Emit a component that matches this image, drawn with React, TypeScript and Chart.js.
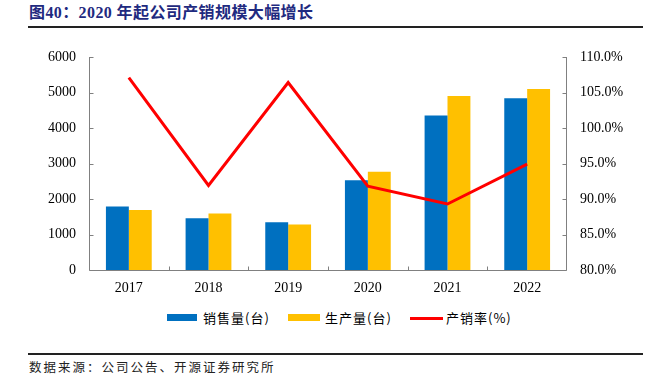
import React, { useEffect, useRef } from "react";
import { Chart, registerables } from "chart.js";

Chart.register(...registerables);

const years = ["2017", "2018", "2019", "2020", "2021", "2022"];
const salesUnits = [1790, 1455, 1345, 2525, 4355, 4835];
const productionUnits = [1690, 1595, 1285, 2770, 4900, 5100];
const salesRatio = [107.1, 91.9, 106.4, 91.8, 89.3, 94.9];
const leftMin = 0;
const leftMax = 6000;
const leftStep = 1000;
const rightMin = 80;
const rightMax = 110;
const rightStep = 5;

const titleText = "图40：2020 年起公司产销规模大幅增长";
const sourceText = "数据来源：公司公告、开源证券研究所";
const legendSales = "销售量(台)";
const legendProd = "生产量(台)";
const legendRatio = "产销率(%)";

const BLUE = "#0070C0";
const YELLOW = "#FFC000";
const RED = "#FF0000";
const AXIS = "#808080";

const axisPlugin = {
  id: "innerAxis",
  afterDraw(chart: any) {
    const ctx = chart.ctx;
    const { left, right, top, bottom } = chart.chartArea;
    const x = chart.scales.x;
    const yL = chart.scales.yL;
    const yR = chart.scales.yR;
    ctx.save();
    ctx.strokeStyle = AXIS;
    ctx.lineWidth = 1;
    ctx.beginPath();
    const L = Math.round(left) + 0.5;
    const R = Math.round(right) - 0.5;
    const B = Math.round(bottom) + 0.5;
    ctx.moveTo(L, Math.round(top));
    ctx.lineTo(L, B);
    ctx.moveTo(R, Math.round(top));
    ctx.lineTo(R, B);
    ctx.moveTo(L, B);
    ctx.lineTo(R, B);
    yL.ticks.forEach((t: any) => {
      const y = Math.round(yL.getPixelForValue(t.value)) + 0.5;
      ctx.moveTo(L, y);
      ctx.lineTo(L + 4, y);
    });
    yR.ticks.forEach((t: any) => {
      const y = Math.round(yR.getPixelForValue(t.value)) + 0.5;
      ctx.moveTo(R - 4, y);
      ctx.lineTo(R, y);
    });
    const n = years.length;
    for (let i = 1; i < n; i++) {
      const xb = Math.round((x.getPixelForValue(i - 1) + x.getPixelForValue(i)) / 2) + 0.5;
      ctx.moveTo(xb, B);
      ctx.lineTo(xb, B - 4);
    }
    ctx.stroke();
    ctx.restore();
  },
};

export default function App() {
  const ref = useRef<HTMLCanvasElement | null>(null);

  useEffect(() => {
    document.body.style.margin = "0";
    const canvas = ref.current;
    if (!canvas) return;
    const serif = "'Liberation Serif', 'Times New Roman', serif";
    const chart = new Chart(canvas, {
      type: "bar",
      data: {
        labels: years,
        datasets: [
          {
            type: "line",
            label: legendRatio,
            data: salesRatio,
            yAxisID: "yR",
            borderColor: RED,
            backgroundColor: RED,
            borderWidth: 3,
            pointRadius: 0,
            tension: 0,
            order: 0,
          } as any,
          {
            type: "bar",
            label: legendSales,
            data: salesUnits,
            yAxisID: "yL",
            backgroundColor: BLUE,
            borderWidth: 0,
            categoryPercentage: 0.575,
            barPercentage: 1,
            order: 1,
          },
          {
            type: "bar",
            label: legendProd,
            data: productionUnits,
            yAxisID: "yL",
            backgroundColor: YELLOW,
            borderWidth: 0,
            categoryPercentage: 0.575,
            barPercentage: 1,
            order: 2,
          },
        ],
      },
      options: {
        responsive: false,
        animation: false,
        devicePixelRatio: 1,
        layout: { padding: { top: 57, left: 0, right: 0, bottom: 0 } },
        plugins: {
          legend: { display: false },
          tooltip: { enabled: false },
          title: { display: false },
        },
        scales: {
          x: {
            type: "category",
            offset: true,
            grid: { display: false, drawTicks: false },
            border: { display: false },
            ticks: {
              color: "#000",
              font: { family: serif, size: 14 },
              padding: 10,
              maxRotation: 0,
            },
            afterFit: (s: any) => {
              s.height = 30;
            },
          },
          yL: {
            type: "linear",
            position: "left",
            min: leftMin,
            max: leftMax,
            grid: { display: false, drawTicks: false },
            border: { display: false },
            ticks: {
              stepSize: leftStep,
              color: "#000",
              font: { family: serif, size: 14 },
              padding: 13,
              callback: (v: any) => String(v),
            },
            afterFit: (s: any) => {
              s.width = 89;
            },
          },
          yR: {
            type: "linear",
            position: "right",
            min: rightMin,
            max: rightMax,
            grid: { display: false, drawTicks: false },
            border: { display: false },
            ticks: {
              stepSize: rightStep,
              color: "#000",
              font: { family: serif, size: 14 },
              padding: 13,
              callback: (v: any) => Number(v).toFixed(1) + "%",
            },
            afterFit: (s: any) => {
              s.width = 80;
            },
          },
        },
      },
      plugins: [axisPlugin],
    });
    return () => chart.destroy();
  }, []);

  const cjk = "'Noto Sans CJK SC', sans-serif";
  const legendText: React.CSSProperties = {
    position: "absolute",
    top: 309,
    height: 18,
    lineHeight: "18px",
    fontSize: 13,
    fontFamily: cjk,
    color: "#000",
    letterSpacing: 1,
    whiteSpace: "nowrap",
  };

  return (
    <div style={{ position: "absolute", left: 0, top: 0, width: 647, height: 386, background: "#fff", overflow: "hidden" }}>
      <div
        style={{
          position: "absolute",
          left: 29,
          top: 3,
          fontFamily: "'Liberation Serif', 'Noto Sans CJK SC', serif",
          fontWeight: "bold",
          fontSize: 16,
          lineHeight: "20px",
          color: "#1F2A80",
          whiteSpace: "nowrap",
          letterSpacing: 0.4,
        }}
      >
        {titleText}
      </div>
      <div style={{ position: "absolute", left: 28, top: 26, width: 615, height: 2, background: "#222" }} />
      <canvas ref={ref} width={647} height={300} style={{ position: "absolute", left: 0, top: 0, width: 647, height: 300 }} />
      <div style={{ position: "absolute", left: 167, top: 314, width: 30, height: 7, background: BLUE }} />
      <div style={{ ...legendText, left: 203 }}>{legendSales}</div>
      <div style={{ position: "absolute", left: 288, top: 314, width: 32, height: 7, background: YELLOW }} />
      <div style={{ ...legendText, left: 325 }}>{legendProd}</div>
      <div style={{ position: "absolute", left: 410, top: 317, width: 33, height: 3, background: RED }} />
      <div style={{ ...legendText, left: 446 }}>{legendRatio}</div>
      <div style={{ position: "absolute", left: 28, top: 353, width: 615, height: 1.5, background: "#222" }} />
      <div
        style={{
          position: "absolute",
          left: 29,
          top: 358,
          fontFamily: cjk,
          fontSize: 12.5,
          lineHeight: "18px",
          letterSpacing: 2,
          color: "#222",
          whiteSpace: "nowrap",
        }}
      >
        {sourceText}
      </div>
    </div>
  );
}
